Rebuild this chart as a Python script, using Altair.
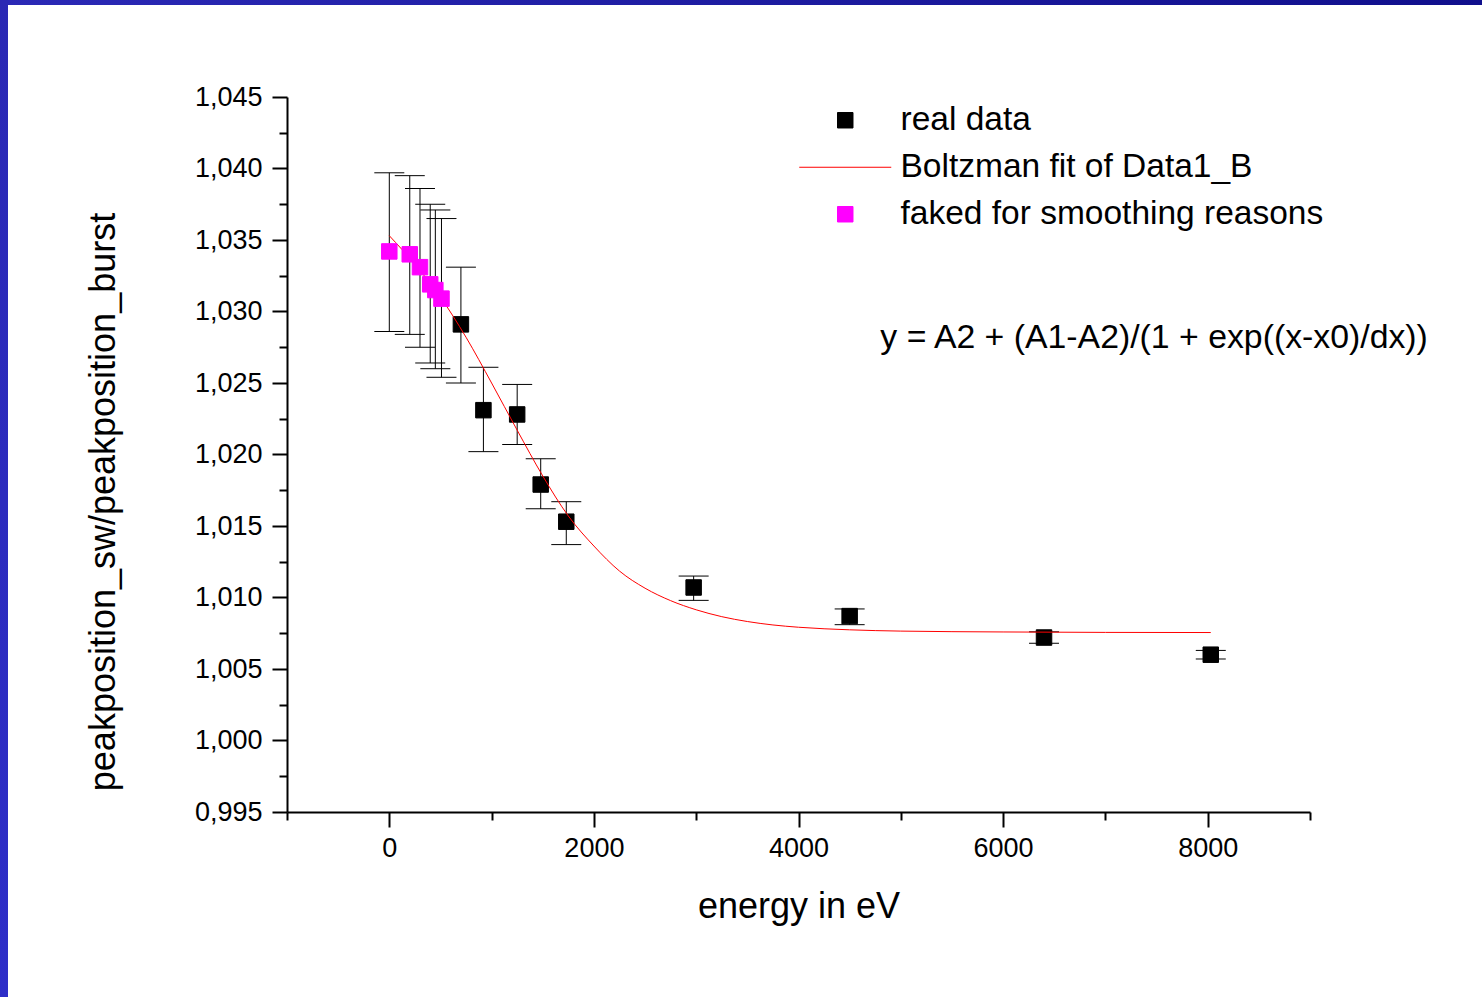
import altair as alt
import pandas as pd

# ---------------- data ----------------
energy_real = [700, 920, 1250, 1480, 1730, 2975, 4500, 6400, 8030]
ratio_real = [1.0291, 1.0231, 1.0228, 1.0179, 1.0153, 1.0107, 1.0087, 1.0072, 1.0060]
low_real = [1.0250, 1.0202, 1.0207, 1.0162, 1.0137, 1.0098, 1.0081, 1.0068, 1.0057]
high_real = [1.0331, 1.0261, 1.0249, 1.0197, 1.0167, 1.0115, 1.0092, 1.0076, 1.0063]

energy_fake = [0, 200, 300, 400, 450, 510]
ratio_fake = [1.0342, 1.0340, 1.0331, 1.0319, 1.0315, 1.0309]
low_fake = [1.0286, 1.0284, 1.0275, 1.0264, 1.0260, 1.0254]
high_fake = [1.0397, 1.0395, 1.0386, 1.0375, 1.0371, 1.0365]

fit_energy = [0, 250, 500, 750, 1000, 1250, 1500, 1750, 2000, 2250, 2500,
              2750, 3000, 3250, 3500, 3750, 4000, 4500, 5000, 6000, 7000, 8030]
fit_ratio = [1.0353, 1.0333, 1.0310, 1.0282, 1.0250, 1.0217, 1.0185, 1.0157,
             1.0136, 1.01185, 1.01065, 1.00978, 1.00914, 1.00866, 1.00832, 1.00808,
             1.00792, 1.00774, 1.00765, 1.00759, 1.00756, 1.00755]

series_names = ["real data", "Boltzman fit of Data1_B", "faked for smoothing reasons"]
series_colors = ["#000000", "#ff0000", "#ff00ff"]

formula_text = ["y = A2 + (A1-A2)/(1 + exp((x-x0)/dx))"]
formula_energy = [4800]
formula_ratio = [1.02745]

x_major = [0, 2000, 4000, 6000, 8000]
x_minor = [-1000, 1000, 3000, 5000, 7000, 9000]
y_major = [0.995, 1.000, 1.005, 1.010, 1.015, 1.020, 1.025, 1.030, 1.035, 1.040, 1.045]
y_minor = [0.9975, 1.0025, 1.0075, 1.0125, 1.0175, 1.0225, 1.0275, 1.0325, 1.0375, 1.0425]

x_title = "energy in eV"
y_title = "peakposition_sw/peakposition_burst"

# ---------------- tables ----------------
real_df = pd.DataFrame({"energy": energy_real, "ratio": ratio_real,
                        "low": low_real, "high": high_real, "series": series_names[0]})
fake_df = pd.DataFrame({"energy": energy_fake, "ratio": ratio_fake,
                        "low": low_fake, "high": high_fake, "series": series_names[2]})
all_df = pd.concat([fake_df, real_df], ignore_index=True)
fit_df = pd.DataFrame({"energy": fit_energy, "ratio": fit_ratio})
text_df = pd.DataFrame({"energy": formula_energy, "ratio": formula_ratio, "label": formula_text})
band_df = pd.DataFrame({"k": [0]})

FONT = "Liberation Sans"
W, H = 1023, 715

xs = alt.Scale(domain=[-1000, 9000], nice=False, zero=False)
ys = alt.Scale(domain=[0.995, 1.045], nice=False, zero=False)

x_axis_major = alt.Axis(
    orient="bottom", values=x_major, format="d", grid=False,
    tickSize=15, tickWidth=2, tickColor="black",
    domainColor="black", domainWidth=2,
    labelFont=FONT, labelFontSize=27, labelColor="black", labelPadding=8,
    labelFlush=False, labelOverlap=False,
    title=x_title, titleFont=FONT, titleFontSize=36, titleFontWeight="normal",
    titleColor="black", titleBaseline="alphabetic", titleAlign="center",
    titleX=511.5, titleY=105,
)
y_axis_major = alt.Axis(
    orient="left", values=y_major, grid=False,
    labelExpr="replace(format(datum.value, '.3f'), '.', ',')",
    tickSize=15, tickWidth=2, tickColor="black",
    domainColor="black", domainWidth=2,
    labelFont=FONT, labelFontSize=27, labelColor="black", labelPadding=10,
    labelFlush=False, labelOverlap=False,
    title=y_title, titleFont=FONT, titleFontSize=36, titleFontWeight="normal",
    titleColor="black", titleBaseline="alphabetic", titleAlign="center",
    titleAngle=270, titleX=-172.5, titleY=404.5,
)
x_axis_minor = alt.Axis(orient="bottom", values=x_minor, grid=False, labels=False,
                        domain=False, tickSize=8, tickWidth=2, tickColor="black", title="")
y_axis_minor = alt.Axis(orient="left", values=y_minor, grid=False, labels=False,
                        domain=False, tickSize=8, tickWidth=2, tickColor="black", title="")

SYM = 240
legend = alt.Legend(
    orient="none", legendX=541.5, legendY=6.5, direction="vertical", title=None,
    padding=0, labelFont=FONT, labelFontSize=33.5, labelColor="black",
    labelLimit=2000, labelOffset=38.5, symbolSize=SYM, symbolStrokeWidth=1,
    rowPadding=12, symbolOpacity=1,
)
line_path = "M-5.94,0H5.94"
fill_scale = alt.Scale(domain=series_names, range=series_colors)
shape_scale = alt.Scale(domain=series_names, range=["square", line_path, "square"])

# ---------------- decoration: blue slide border ----------------
top_band = alt.Chart(band_df).mark_rect(
    color=alt.LinearGradient(
        gradient="linear",
        stops=[alt.GradientStop(color="#2b29b6", offset=0),
               alt.GradientStop(color="#100f8c", offset=1)],
        x1=0, x2=1, y1=0, y2=0)
).encode(x=alt.value(-287), x2=alt.value(1195), y=alt.value(-97), y2=alt.value(-92))

left_band = alt.Chart(band_df).mark_rect(
    color=alt.LinearGradient(
        gradient="linear",
        stops=[alt.GradientStop(color="#2a28b4", offset=0),
               alt.GradientStop(color="#2e2ec8", offset=1)],
        x1=0, x2=0, y1=0, y2=1)
).encode(x=alt.value(-287), x2=alt.value(-279), y=alt.value(-97), y2=alt.value(900))

# ---------------- data layers ----------------
err_rules = alt.Chart(all_df).mark_rule(color="black", strokeWidth=1).encode(
    x=alt.X("energy:Q", scale=xs, axis=x_axis_major),
    y=alt.Y("low:Q", scale=ys, axis=y_axis_major),
    y2="high:Q",
)
caps_low = alt.Chart(all_df).mark_tick(orient="horizontal", size=30, thickness=1,
                                       color="black", opacity=1).encode(
    x=alt.X("energy:Q", scale=xs, axis=x_axis_minor),
    y=alt.Y("low:Q", scale=ys, axis=y_axis_minor),
)
caps_high = alt.Chart(all_df).mark_tick(orient="horizontal", size=30, thickness=1,
                                        color="black", opacity=1).encode(
    x=alt.X("energy:Q", scale=xs, axis=None),
    y=alt.Y("high:Q", scale=ys, axis=None),
)


def point_layer(df):
    return alt.Chart(df).mark_point(filled=True, size=SYM, strokeWidth=1, opacity=1).encode(
        x=alt.X("energy:Q", scale=xs, axis=None),
        y=alt.Y("ratio:Q", scale=ys, axis=None),
        fill=alt.Fill("series:N", scale=fill_scale, legend=legend),
        stroke=alt.Stroke("series:N", scale=fill_scale, legend=legend),
        shape=alt.Shape("series:N", scale=shape_scale, legend=legend),
    )


real_pts = point_layer(real_df)
fake_pts = point_layer(fake_df)

fit_line = alt.Chart(fit_df).mark_line(color="#ff0000", strokeWidth=1,
                                       interpolate="monotone").encode(
    x=alt.X("energy:Q", scale=xs, axis=None),
    y=alt.Y("ratio:Q", scale=ys, axis=None),
)

formula = alt.Chart(text_df).mark_text(align="left", baseline="alphabetic", font=FONT,
                                       fontSize=33.8, color="black").encode(
    x=alt.X("energy:Q", scale=xs, axis=None),
    y=alt.Y("ratio:Q", scale=ys, axis=None),
    text="label:N",
)

chart = alt.layer(
    top_band, left_band, err_rules, caps_low, caps_high, real_pts, fit_line, fake_pts, formula
).resolve_axis(
    x="independent", y="independent"
).properties(
    width=W, height=H,
    autosize=alt.AutoSizeParams(type="none"),
    padding={"left": 287, "top": 97, "right": 172, "bottom": 185},
    background="white",
).configure_view(strokeWidth=0)

chart.save("out.html", embed_options={"renderer": "svg", "actions": False})
